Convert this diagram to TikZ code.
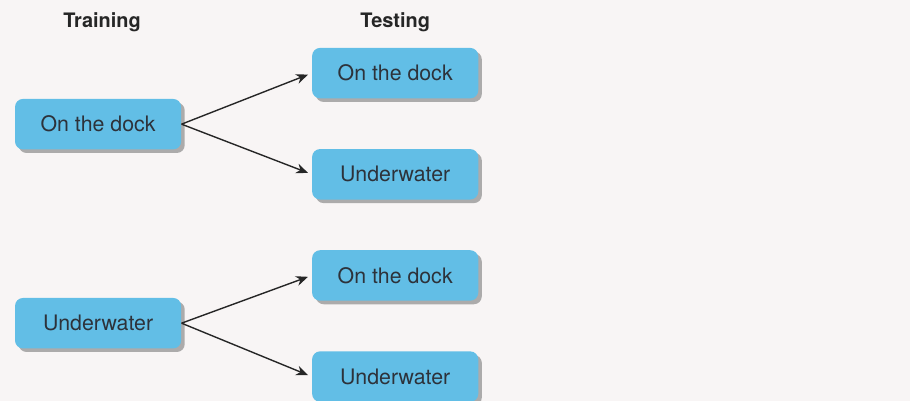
\documentclass[tikz,border=0pt]{standalone}
\usepackage{fontspec}
\setmainfont{TeX Gyre Heros}
\usepackage{tikz}
\usetikzlibrary{arrows.meta, positioning, shadows}

\definecolor{boxblue}{RGB}{98,190,230}
\definecolor{boxtext}{RGB}{45,50,58}
\definecolor{paper}{RGB}{248,245,245}

\begin{document}
\begin{tikzpicture}[node distance = 0.88cm, >=Stealth,
    box/.style={rectangle, fill=boxblue, rounded corners=4pt, minimum width=2.93cm, minimum height=0.89cm,
        text=boxtext, font=\fontsize{10.7}{12}\selectfont,
        drop shadow={shadow xshift=1.8pt, shadow yshift=-1.8pt, fill=black!40, opacity=0.8}},
    heading/.style={font=\bfseries\fontsize{10}{12}\selectfont, text=black!85},
    arrow/.style={line width=0.7pt, ->, >={Stealth[length=6pt, width=5pt]}, draw=black!85, shorten >=2pt}
]
    \fill[paper] (0,0) rectangle (16.05,-7.07);
    \useasboundingbox (0,0) rectangle (16.05,-7.07);

    % Column headings
    \node [heading] (training) at (1.80,-0.39) {Training};
    \node [heading] (testing) at (6.97,-0.39) {Testing};

    % Testing conditions
    \node [box] (testdock1) at (6.97,-1.29) {On the dock};
    \node [box, below=of testdock1] (testwater1) {Underwater};
    \node [box, below=of testwater1] (testdock2) {On the dock};
    \node [box, below=of testdock2] (testwater2) {Underwater};

    % Training conditions
    \node [box] (traindock) at (1.73,-2.19) {On the dock};
    \node [box] (trainwater) at (1.73,-5.70) {Underwater};

    % Draw edges
    \draw [arrow] (traindock.east) -- (testdock1.west);
    \draw [arrow] (traindock.east) -- (testwater1.west);
    \draw [arrow] (trainwater.east) -- (testdock2.west);
    \draw [arrow] (trainwater.east) -- (testwater2.west);
\end{tikzpicture}
\end{document}
